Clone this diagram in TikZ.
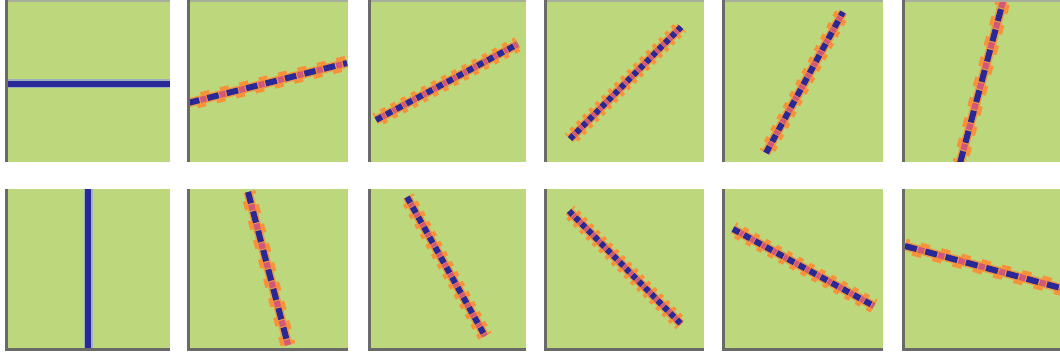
\documentclass[tikz,border=0pt]{standalone}
\definecolor{bg}{HTML}{BDD77C}
\definecolor{ln}{HTML}{2A2896}
\definecolor{orng}{HTML}{F7923A}
\definecolor{mag}{HTML}{D2587A}
\definecolor{edged}{HTML}{6A6A66}
\definecolor{edgel}{HTML}{A9AE9C}
\definecolor{fringe}{HTML}{9CB0C0}
\tikzset{
  panelbg/.style={fill=bg},
  halo/.style={draw=orng!88!bg, line width=9pt},
  blob/.style={draw=orng, line width=8pt},
  midband/.style={draw=mag, line width=6pt},
  core/.style={draw=ln, line width=6pt},
  plain/.style={draw=ln, line width=6.5pt},
  plainfringe/.style={draw=fringe, line width=9pt},
  darkedge/.style={draw=edged, line width=3pt},
  lightedge/.style={draw=edgel, line width=2.5pt},
}
% #1 x0, #2 y0, #3 x1, #4 y1, #5 ax, #6 ay, #7 bx, #8 by, #9 period
\newcommand\stripepanel[9]{%
  \begin{scope}
    \clip (#1,#2) rectangle (#3,#4);
    \fill[panelbg] (#1,#2) rectangle (#3,#4);
    \pgfmathsetmacro\len{veclen(#7-#5,#8-#6)}%
    \pgfmathsetmacro\nx{-(#8-#6)/\len*3.5}%
    \pgfmathsetmacro\ny{(#7-#5)/\len*3.5}%
    \pgfmathsetmacro\onlen{#9*0.58}%
    \pgfmathsetmacro\offlen{#9*0.42}%
    \pgfmathsetmacro\bon{#9*0.45}%
    \pgfmathsetmacro\boff{#9*0.55}%
    \pgfmathsetmacro\bphaseA{#9*(1-0.415)}%
    \pgfmathsetmacro\bphaseB{#9*(1-0.715)}%
    \pgfmathsetmacro\midon{#9*0.3}%
    \pgfmathsetmacro\midoff{#9*0.7}%
    \pgfmathsetmacro\midphase{#9*(1-0.64)}%
    \draw[halo] (#5,#6) -- (#7,#8);
    \draw[blob, dash pattern=on \bon pt off \boff pt, dash phase=\bphaseA pt]
      (#5+\nx,#6+\ny) -- (#7+\nx,#8+\ny);
    \draw[blob, dash pattern=on \bon pt off \boff pt, dash phase=\bphaseB pt]
      (#5-\nx,#6-\ny) -- (#7-\nx,#8-\ny);
    \draw[midband, dash pattern=on \midon pt off \midoff pt, dash phase=\midphase pt] (#5,#6) -- (#7,#8);
    \draw[core, dash pattern=on \onlen pt off \offlen pt] (#5,#6) -- (#7,#8);
  \end{scope}}
\begin{document}
\begin{tikzpicture}[x=1pt,y=-1pt]
\useasboundingbox (0,0) rectangle (1060,355);
% ---------- top row ----------
\fill[panelbg] (5,0) rectangle (170,162);
\draw[plainfringe] (7,84) -- (170,84);
\draw[plain] (7,84) -- (170,84);
\stripepanel{187}{0}{348}{162}{188}{103}{347}{63}{20}
\stripepanel{368}{0}{526}{162}{376}{120}{518}{44}{11.5}
\stripepanel{544}{0}{704}{162}{570}{139}{681}{27}{9}
\stripepanel{722}{0}{883}{162}{766}{153}{843}{12}{13}
\stripepanel{902}{0}{1060}{162}{960}{163}{1005}{-6}{21}
\foreach \a/\b in {5/170,187/348,368/526,544/704,722/883,902/1060}{
  \draw[lightedge] (\a,1.2) -- (\b,1.2);
  \draw[darkedge] (\a+1.5,0) -- (\a+1.5,162);
}
% ---------- bottom row ----------
\fill[panelbg] (5,189) rectangle (170,351);
\draw[plainfringe] (88,189) -- (88,351);
\draw[plain] (88,189) -- (88,351);
\stripepanel{187}{189}{348}{351}{248}{192}{288}{345}{20}
\stripepanel{368}{189}{526}{351}{407}{197}{485}{336}{11.5}
\stripepanel{544}{189}{704}{351}{569}{211}{681}{324}{9}
\stripepanel{722}{189}{883}{351}{733}{229}{874}{306}{12.5}
\stripepanel{902}{189}{1060}{351}{905}{246}{1068}{290}{21}
\foreach \a/\b in {5/170,187/348,368/526,544/704,722/883,902/1060}{
  \draw[darkedge] (\a,349.5) -- (\b,349.5);
  \draw[darkedge] (\a+1.5,189) -- (\a+1.5,351);
}
\end{tikzpicture}
\end{document}
